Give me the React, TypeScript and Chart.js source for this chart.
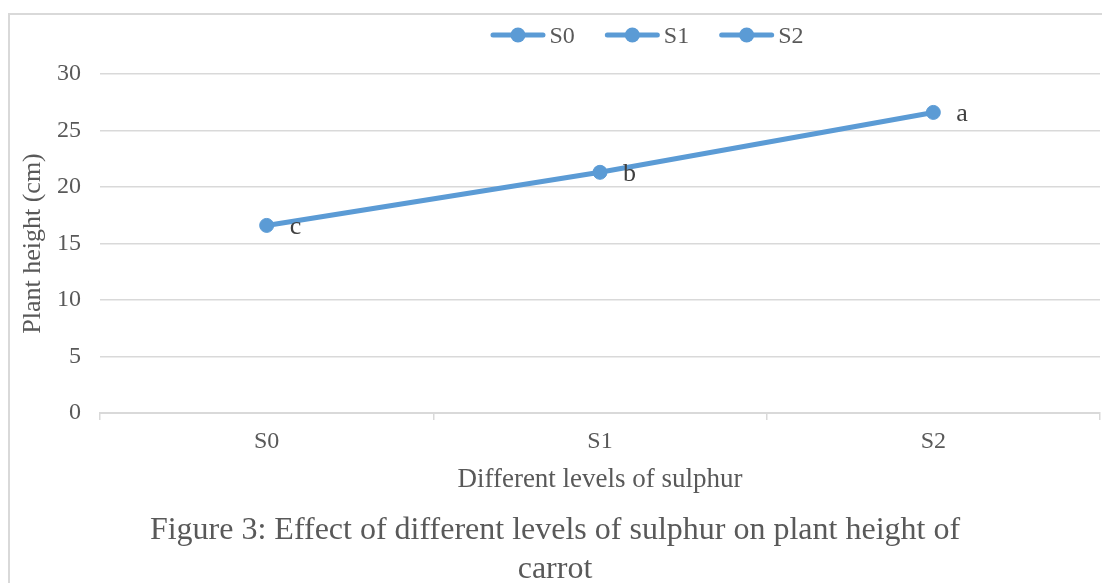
import React, { useEffect, useRef } from "react";
import { Chart, registerables } from "chart.js";

Chart.register(...registerables);

// ---- data ----
const categories = ["S0", "S1", "S2"];
const plantHeight = [16.6, 21.3, 26.6];
const significanceLetters = ["c", "b", "a"];
const legendLabels = ["S0", "S1", "S2"];
const yMin = 0;
const yMax = 30;
const yStep = 5;
const xAxisTitle = "Different levels of sulphur";
const yAxisTitle = "Plant height (cm)";
const captionLines = [
  "Figure 3: Effect of different levels of sulphur on plant height of",
  "carrot",
];

const SERIES_COLOR = "#5b9bd5";
const TEXT_COLOR = "#595959";
const LABEL_COLOR = "#404040";
const GRID_COLOR = "#d9d9d9";
const FONT_FAMILY = "'Liberation Serif', 'Times New Roman', serif";

const CANVAS_W = 1092;
const CANVAS_H = 574;

const letterPlugin = {
  id: "letterLabels",
  afterDatasetsDraw(chart: any) {
    const meta = chart.getDatasetMeta(0);
    const ctx = chart.ctx;
    ctx.save();
    ctx.font = `26px ${FONT_FAMILY}`;
    ctx.fillStyle = LABEL_COLOR;
    ctx.textAlign = "left";
    ctx.textBaseline = "alphabetic";
    meta.data.forEach((pt: any, i: number) => {
      ctx.fillText(significanceLetters[i], pt.x + 23, pt.y + 9);
    });
    ctx.restore();
  },
};

const legendPlugin = {
  id: "lineMarkerLegend",
  afterDraw(chart: any) {
    const ctx = chart.ctx;
    const area = chart.chartArea;
    ctx.save();
    ctx.font = `24px ${FONT_FAMILY}`;
    const lineW = 55;
    const textGap = 4;
    const itemGap = 30;
    const widths = legendLabels.map((t) => ctx.measureText(t).width);
    const total =
      widths.reduce((s, w) => s + lineW + textGap + w, 0) +
      itemGap * (legendLabels.length - 1);
    const centerX = (area.left + area.right) / 2 + 47;
    let x = centerX - total / 2;
    const lineY = 20;
    const textY = 27.5;
    legendLabels.forEach((label, i) => {
      ctx.strokeStyle = SERIES_COLOR;
      ctx.lineWidth = 5;
      ctx.lineCap = "round";
      ctx.beginPath();
      ctx.moveTo(x + 2.5, lineY);
      ctx.lineTo(x + lineW - 2.5, lineY);
      ctx.stroke();
      ctx.fillStyle = SERIES_COLOR;
      ctx.beginPath();
      ctx.arc(x + lineW / 2, lineY, 7.5, 0, Math.PI * 2);
      ctx.fill();
      ctx.fillStyle = TEXT_COLOR;
      ctx.textAlign = "left";
      ctx.textBaseline = "alphabetic";
      ctx.fillText(label, x + lineW + textGap, textY);
      x += lineW + textGap + widths[i] + itemGap;
    });
    ctx.restore();
  },
};

export default function App() {
  const canvasRef = useRef<HTMLCanvasElement | null>(null);

  useEffect(() => {
    if (!canvasRef.current) return;
    Chart.defaults.font.family = FONT_FAMILY;
    const chart = new Chart(canvasRef.current, {
      type: "line",
      data: {
        labels: categories,
        datasets: [
          {
            label: "Plant height",
            data: plantHeight,
            borderColor: SERIES_COLOR,
            backgroundColor: SERIES_COLOR,
            borderWidth: 5,
            borderCapStyle: "round",
            borderJoinStyle: "round",
            pointRadius: 7,
            pointBorderWidth: 1,
            pointBackgroundColor: SERIES_COLOR,
            pointBorderColor: SERIES_COLOR,
            tension: 0,
            fill: false,
          },
        ],
      },
      options: {
        responsive: false,
        animation: false,
        devicePixelRatio: 1,
        layout: {
          autoPadding: false,
          padding: { top: 59, right: 2, bottom: 0.7, left: 0 },
        },
        plugins: {
          legend: { display: false },
          tooltip: { enabled: false },
          title: {
            display: true,
            position: "bottom",
            text: captionLines,
            color: TEXT_COLOR,
            font: { size: 32, family: FONT_FAMILY, weight: "normal", lineHeight: 1.2 },
            padding: { top: 8.5, bottom: 0 },
          },
        },
        scales: {
          x: {
            type: "category",
            offset: true,
            afterFit: (scale: any) => {
              scale.height = 90;
              scale.paddingLeft = 0;
              scale.paddingRight = 0;
            },
            grid: {
              offset: true,
              drawOnChartArea: false,
              drawTicks: true,
              tickLength: 7,
              color: GRID_COLOR,
              lineWidth: 1.5,
            },
            border: { display: true, color: GRID_COLOR, width: 2 },
            ticks: {
              color: TEXT_COLOR,
              font: { size: 24, family: FONT_FAMILY },
              padding: 7.5,
              maxRotation: 0,
            },
            title: {
              display: true,
              text: xAxisTitle,
              color: TEXT_COLOR,
              font: { size: 27, family: FONT_FAMILY },
              padding: { top: 0, bottom: 6.8 },
            },
          },
          y: {
            min: yMin,
            max: yMax,
            afterFit: (scale: any) => {
              scale.width = 90;
            },
            ticks: {
              stepSize: yStep,
              color: TEXT_COLOR,
              font: { size: 24, family: FONT_FAMILY },
              padding: 19,
            },
            grid: {
              color: GRID_COLOR,
              lineWidth: 1.5,
              drawTicks: false,
            },
            border: { display: false },
            title: {
              display: true,
              text: yAxisTitle,
              color: TEXT_COLOR,
              font: { size: 26, family: FONT_FAMILY },
              padding: { top: 7.4, bottom: 0 },
            },
          },
        },
      },
      plugins: [letterPlugin, legendPlugin],
    });
    return () => chart.destroy();
  }, []);

  return (
    <div
      style={{
        position: "absolute",
        left: 0,
        top: 0,
        width: 1102,
        height: 583,
        overflow: "hidden",
        background: "#ffffff",
      }}
    >
      <div
        style={{
          position: "absolute",
          left: 8,
          top: 13,
          width: 1094,
          height: 570,
          boxSizing: "border-box",
          borderTop: `2px solid ${GRID_COLOR}`,
          borderLeft: `2px solid ${GRID_COLOR}`,
        }}
      />
      <canvas
        ref={canvasRef}
        width={CANVAS_W}
        height={CANVAS_H}
        style={{
          position: "absolute",
          left: 10,
          top: 15,
          width: CANVAS_W,
          height: CANVAS_H,
        }}
      />
    </div>
  );
}
